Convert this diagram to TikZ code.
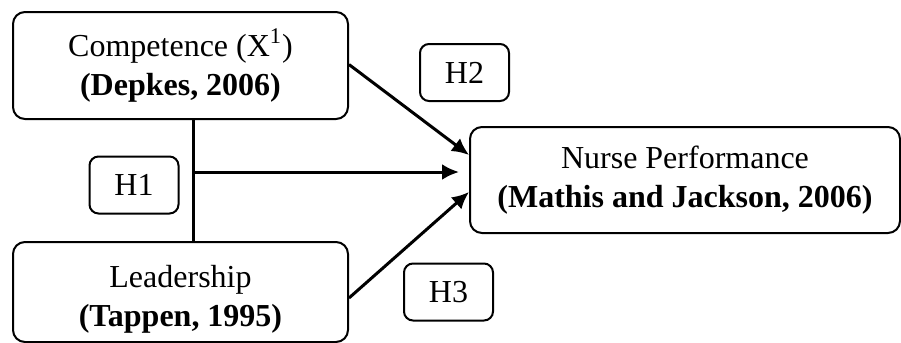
\documentclass[tikz,border=0pt]{standalone}
\usepackage{fontspec}
\setmainfont{Liberation Serif}
\usepackage{tikz}
\usetikzlibrary{arrows.meta,calc,positioning}
\tikzset{
  varbox/.style={draw, rounded corners=6pt, line width=1pt, align=center, inner sep=0pt, font=\fontsize{16}{19.5}\selectfont},
  hypbox/.style={draw, rounded corners=4.5pt, line width=1pt, inner sep=0pt, minimum width=44.5pt, minimum height=28.5pt, font=\fontsize{16}{19.5}\selectfont},
  conn/.style={line width=1.5pt, -{Latex[length=8.5pt,width=8pt]}}
}
\begin{document}
\begin{tikzpicture}[x=0.5pt,y=-0.5pt]
\useasboundingbox (0,0) rectangle (901,343);
% variables
\node[varbox, minimum width=167.5pt, minimum height=53.5pt] (comp) at (180.5,65.5)
  {Competence (X\textsuperscript{1})\\\textbf{(Depkes, 2006)}};
\node[varbox, minimum width=167.5pt, minimum height=50pt] (lead) at (180.5,292)
  {\rule{0pt}{18pt}Leadership\\\textbf{(Tappen, 1995)}};
\node[varbox, minimum width=215pt, minimum height=53pt] (nurse) at (685,180)
  {Nurse Performance\\\textbf{(Mathis and Jackson, 2006)}};
% hypotheses
\node[hypbox] (h1) at (134,185) {H1};
\node[hypbox] (h2) at (464.5,72.5) {H2};
\node[hypbox] (h3) at (448.5,292) {H3};
% connectors
\coordinate (join) at (193,172);
\draw[line width=1.5pt] (comp.south -| join) -- (lead.north -| join);
\draw[conn, shorten >=5pt] (join) -- (join -| nurse.west);
\draw[conn] ($(comp.east)+(0,-1)$) -- ($(nurse.west)+(0,-25)$);
\draw[conn] ($(lead.east)+(0,6)$) -- ($(nurse.west)+(0,12)$);
\end{tikzpicture}
\end{document}
